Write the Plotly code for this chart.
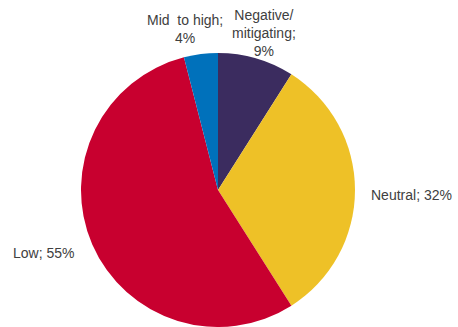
import plotly.graph_objects as go

# Share of assessments by impact category
categories = ["Negative/mitigating", "Neutral", "Low", "Mid to high"]
shares = [9, 32, 55, 4]
colors = ["#3B2C5F", "#EEC127", "#C8002F", "#0071BB"]
label_texts = ["Negative/<br>mitigating;<br>9%", "Neutral; 32%", "Low; 55%", "Mid&nbsp; to high;<br>4%"]

W, H = 458, 327

fig = go.Figure(
    go.Pie(
        labels=categories,
        values=shares,
        marker=dict(colors=colors, line=dict(width=0)),
        sort=False,
        direction="clockwise",
        rotation=0,
        textinfo="none",
        hoverinfo="label+percent",
        domain=dict(x=[80.5 / W, 355.5 / W], y=[0, 274 / H]),
        showlegend=False,
    )
)

font = dict(family="Liberation Sans, Arial, sans-serif", size=14, color="#404040")
# label anchor positions in paper coordinates
label_pos = [
    (264 / W, 1 - 5 / H, "center", "top"),
    (369 / W, 1 - 195 / H, "left", "middle"),
    (11 / W, 1 - 253 / H, "left", "middle"),
    (185 / W, 1 - 10 / H, "center", "top"),
]
for text, (x, y, xa, ya) in zip(label_texts, label_pos):
    fig.add_annotation(
        text=text, x=x, y=y, xref="paper", yref="paper",
        xanchor=xa, yanchor=ya, showarrow=False, align="center", font=font,
    )

fig.update_layout(
    width=W, height=H,
    margin=dict(l=0, r=0, t=0, b=0),
    paper_bgcolor="white", plot_bgcolor="white",
)

fig.write_html("out.html")
